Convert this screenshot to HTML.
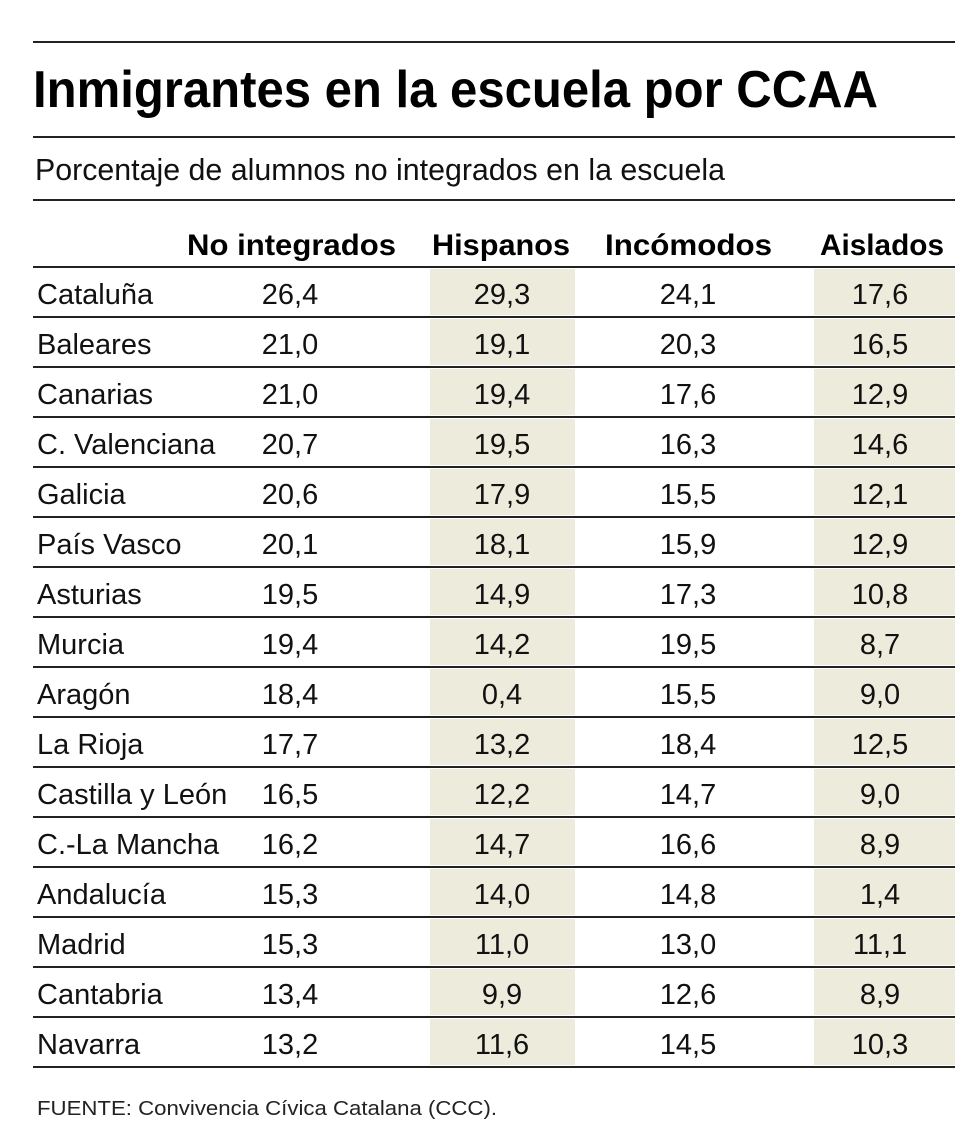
<!DOCTYPE html>
<html><head><meta charset="utf-8"><style>body{margin:0;background:#fff}svg{display:block}</style></head><body>
<svg width="980" height="1144" xmlns="http://www.w3.org/2000/svg" font-family="Liberation Sans, sans-serif">
<rect width="980" height="1144" fill="#fff"/>
<line x1="33" y1="42" x2="955" y2="42" stroke="#222" stroke-width="2"/>
<text x="33" y="107" font-size="52" font-weight="bold" textLength="845" lengthAdjust="spacingAndGlyphs" fill="#000">Inmigrantes en la escuela por CCAA</text>
<line x1="33" y1="137" x2="955" y2="137" stroke="#222" stroke-width="2"/>
<text x="35" y="180" font-size="31" textLength="690" lengthAdjust="spacingAndGlyphs" fill="#111">Porcentaje de alumnos no integrados en la escuela</text>
<line x1="33" y1="200" x2="955" y2="200" stroke="#222" stroke-width="2"/>
<g font-size="30" font-weight="bold" fill="#000">
<text x="187" y="255" textLength="209" lengthAdjust="spacingAndGlyphs">No integrados</text>
<text x="432" y="255" textLength="138" lengthAdjust="spacingAndGlyphs">Hispanos</text>
<text x="605" y="255" textLength="167" lengthAdjust="spacingAndGlyphs">Incómodos</text>
<text x="820" y="255" textLength="124" lengthAdjust="spacingAndGlyphs">Aislados</text>
</g>
<g fill="#ecebdc">
<rect x="430" y="269" width="145" height="46"/><rect x="814" y="269" width="141" height="46"/>
<rect x="430" y="319" width="145" height="46"/><rect x="814" y="319" width="141" height="46"/>
<rect x="430" y="369" width="145" height="46"/><rect x="814" y="369" width="141" height="46"/>
<rect x="430" y="419" width="145" height="46"/><rect x="814" y="419" width="141" height="46"/>
<rect x="430" y="469" width="145" height="46"/><rect x="814" y="469" width="141" height="46"/>
<rect x="430" y="519" width="145" height="46"/><rect x="814" y="519" width="141" height="46"/>
<rect x="430" y="569" width="145" height="46"/><rect x="814" y="569" width="141" height="46"/>
<rect x="430" y="619" width="145" height="46"/><rect x="814" y="619" width="141" height="46"/>
<rect x="430" y="669" width="145" height="46"/><rect x="814" y="669" width="141" height="46"/>
<rect x="430" y="719" width="145" height="46"/><rect x="814" y="719" width="141" height="46"/>
<rect x="430" y="769" width="145" height="46"/><rect x="814" y="769" width="141" height="46"/>
<rect x="430" y="819" width="145" height="46"/><rect x="814" y="819" width="141" height="46"/>
<rect x="430" y="869" width="145" height="46"/><rect x="814" y="869" width="141" height="46"/>
<rect x="430" y="919" width="145" height="46"/><rect x="814" y="919" width="141" height="46"/>
<rect x="430" y="969" width="145" height="46"/><rect x="814" y="969" width="141" height="46"/>
<rect x="430" y="1019" width="145" height="46"/><rect x="814" y="1019" width="141" height="46"/>
</g>
<g stroke="#222" stroke-width="2">
<line x1="33" y1="267" x2="955" y2="267"/><line x1="33" y1="317" x2="955" y2="317"/>
<line x1="33" y1="367" x2="955" y2="367"/><line x1="33" y1="417" x2="955" y2="417"/>
<line x1="33" y1="467" x2="955" y2="467"/><line x1="33" y1="517" x2="955" y2="517"/>
<line x1="33" y1="567" x2="955" y2="567"/><line x1="33" y1="617" x2="955" y2="617"/>
<line x1="33" y1="667" x2="955" y2="667"/><line x1="33" y1="717" x2="955" y2="717"/>
<line x1="33" y1="767" x2="955" y2="767"/><line x1="33" y1="817" x2="955" y2="817"/>
<line x1="33" y1="867" x2="955" y2="867"/><line x1="33" y1="917" x2="955" y2="917"/>
<line x1="33" y1="967" x2="955" y2="967"/><line x1="33" y1="1017" x2="955" y2="1017"/>
<line x1="33" y1="1067" x2="955" y2="1067"/>
</g>
<g font-size="29" fill="#111">
<text x="37" y="304">Cataluña</text>
<text x="37" y="354">Baleares</text>
<text x="37" y="404">Canarias</text>
<text x="37" y="454">C. Valenciana</text>
<text x="37" y="504">Galicia</text>
<text x="37" y="554">País Vasco</text>
<text x="37" y="604">Asturias</text>
<text x="37" y="654">Murcia</text>
<text x="37" y="704">Aragón</text>
<text x="37" y="754">La Rioja</text>
<text x="37" y="804">Castilla y León</text>
<text x="37" y="854">C.-La Mancha</text>
<text x="37" y="904">Andalucía</text>
<text x="37" y="954">Madrid</text>
<text x="37" y="1004">Cantabria</text>
<text x="37" y="1054">Navarra</text>
</g>
<g font-size="29" fill="#111" text-anchor="middle">
<text x="290" y="304">26,4</text><text x="502" y="304">29,3</text><text x="688" y="304">24,1</text><text x="880" y="304">17,6</text>
<text x="290" y="354">21,0</text><text x="502" y="354">19,1</text><text x="688" y="354">20,3</text><text x="880" y="354">16,5</text>
<text x="290" y="404">21,0</text><text x="502" y="404">19,4</text><text x="688" y="404">17,6</text><text x="880" y="404">12,9</text>
<text x="290" y="454">20,7</text><text x="502" y="454">19,5</text><text x="688" y="454">16,3</text><text x="880" y="454">14,6</text>
<text x="290" y="504">20,6</text><text x="502" y="504">17,9</text><text x="688" y="504">15,5</text><text x="880" y="504">12,1</text>
<text x="290" y="554">20,1</text><text x="502" y="554">18,1</text><text x="688" y="554">15,9</text><text x="880" y="554">12,9</text>
<text x="290" y="604">19,5</text><text x="502" y="604">14,9</text><text x="688" y="604">17,3</text><text x="880" y="604">10,8</text>
<text x="290" y="654">19,4</text><text x="502" y="654">14,2</text><text x="688" y="654">19,5</text><text x="880" y="654">8,7</text>
<text x="290" y="704">18,4</text><text x="502" y="704">0,4</text><text x="688" y="704">15,5</text><text x="880" y="704">9,0</text>
<text x="290" y="754">17,7</text><text x="502" y="754">13,2</text><text x="688" y="754">18,4</text><text x="880" y="754">12,5</text>
<text x="290" y="804">16,5</text><text x="502" y="804">12,2</text><text x="688" y="804">14,7</text><text x="880" y="804">9,0</text>
<text x="290" y="854">16,2</text><text x="502" y="854">14,7</text><text x="688" y="854">16,6</text><text x="880" y="854">8,9</text>
<text x="290" y="904">15,3</text><text x="502" y="904">14,0</text><text x="688" y="904">14,8</text><text x="880" y="904">1,4</text>
<text x="290" y="954">15,3</text><text x="502" y="954">11,0</text><text x="688" y="954">13,0</text><text x="880" y="954">11,1</text>
<text x="290" y="1004">13,4</text><text x="502" y="1004">9,9</text><text x="688" y="1004">12,6</text><text x="880" y="1004">8,9</text>
<text x="290" y="1054">13,2</text><text x="502" y="1054">11,6</text><text x="688" y="1054">14,5</text><text x="880" y="1054">10,3</text>
</g>
<text x="37" y="1115" font-size="20" textLength="460" lengthAdjust="spacingAndGlyphs" fill="#222">FUENTE: Convivencia Cívica Catalana (CCC).</text>
</svg>
</body></html>
